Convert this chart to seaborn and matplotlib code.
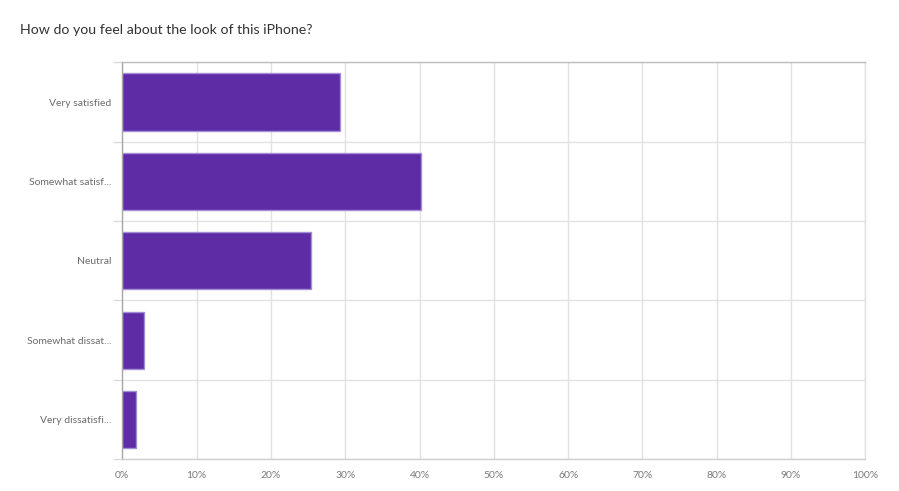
import numpy as np
import pandas as pd
import seaborn as sns
import matplotlib
matplotlib.use("Agg")
import matplotlib.pyplot as plt
from matplotlib.ticker import FixedLocator, PercentFormatter

categories = ["Very satisfied", "Somewhat satisf...", "Neutral",
              "Somewhat dissat...", "Very dissatisfi..."]
values = [29.3, 40.2, 25.4, 2.9, 1.9]
x_ticks = list(range(0, 101, 10))
title = "How do you feel about the look of this iPhone?"

df = pd.DataFrame({"answer": categories, "pct": values})

sns.set_theme(style="white")
plt.rcParams['font.family'] = ['Lato', 'DejaVu Sans']

fig = plt.figure(figsize=(8.99, 4.91), dpi=100)
ax = fig.add_axes([0.1361, 0.0646, 0.8265, 0.8085])

sns.barplot(data=df, x="pct", y="answer", orient="h", color="#5e2ca5",
            saturation=1, width=0.72, edgecolor="#a48fd6", linewidth=1,
            ax=ax, zorder=3)

ax.set_xlim(0, 100)
ax.set_ylim(len(categories) - 0.5, -0.5)
ax.set_xticks(x_ticks)
ax.xaxis.set_major_formatter(PercentFormatter(decimals=0))
ax.set_xlabel("")
ax.set_ylabel("")

# vertical grid
ax.grid(axis="x", color="#e2e2e2", linewidth=1, zorder=0)
ax.set_axisbelow(True)

# horizontal separators between categories, extending left like ticks
ax.yaxis.set_minor_locator(FixedLocator(np.arange(-0.5, len(categories), 1.0)))
ax.grid(axis="y", which="minor", color="#e2e2e2", linewidth=1, zorder=0)
ax.tick_params(axis="y", which="minor", length=6.5, width=1, color="#dcdcdc", left=True)
ax.tick_params(axis="y", which="major", length=0, pad=8, labelsize=7.5, labelcolor="#6b6b6b")
ax.tick_params(axis="x", which="major", length=0, pad=8.5, labelsize=7.5, labelcolor="#7a7a7a")

for name, col in [("left", "#a8a8a8"), ("top", "#bdbdbd"),
                  ("bottom", "#cfcfcf"), ("right", "#e2e2e2")]:
    ax.spines[name].set_visible(True)
    ax.spines[name].set_color(col)
    ax.spines[name].set_linewidth(1)
    ax.spines[name].set_zorder(4)

fig.text(20 / 899, 1 - 30 / 491, title, fontsize=10.2, color="#333333",
         ha="left", va="center")

fig.savefig("out.png", dpi=100)
